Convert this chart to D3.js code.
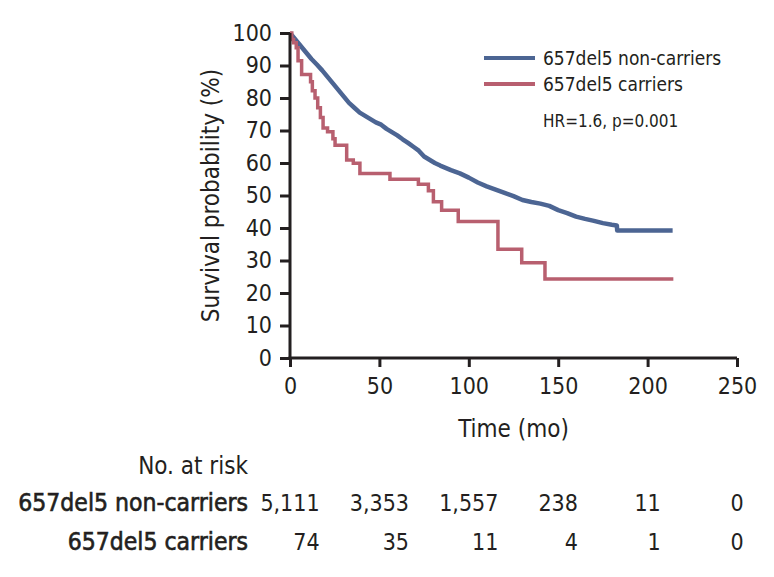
<!DOCTYPE html>
<html>
<head>
<meta charset="utf-8">
<script src="https://cdn.jsdelivr.net/npm/d3@7"></script>
<style>
  body { margin: 0; background: #fff; }
  svg text { font-family: "Liberation Sans Narrow", "DejaVu Sans Condensed", sans-serif; fill: #231f20; }
</style>
</head>
<body>
<svg id="chart"></svg>
<script>
// Kaplan-Meier curves: [month, survival %]
const nonCarriers = [
  [0, 100], [3, 98], [6, 96], [9, 94], [12, 92], [15, 90.3], [18, 88.5], [21, 86.5],
  [24, 84.5], [27, 82.5], [30, 80.5], [33, 78.5], [36, 77], [39, 75.5], [42, 74.5],
  [45, 73.5], [48, 72.5], [51, 71.8], [54, 70.5], [57, 69.5], [60, 68.5], [63, 67.3],
  [66, 66.2], [69, 65], [72, 63.8], [75, 62], [78, 61], [81, 60], [84, 59.2], [87, 58.5],
  [90, 57.8], [95, 56.8], [100, 55.5], [105, 54], [110, 52.8], [115, 51.8], [120, 50.8],
  [125, 49.8], [130, 48.6], [135, 48], [140, 47.5], [145, 46.8], [150, 45.5], [155, 44.6],
  [160, 43.5], [165, 42.8], [170, 42.2], [175, 41.5], [180, 41], [182.8, 40.8],
  [183, 39.2], [214, 39.2]
];
const carriers = [
  [0, 100], [1, 98], [2, 97], [3.5, 95.5], [4.5, 91.5], [6.5, 87.2], [11.5, 85], [12.5, 82.2],
  [14, 80], [15.5, 77], [17, 74], [18.5, 70.8], [21, 69.6], [24, 67.5], [25.2, 65.5],
  [31.7, 60.9], [35.4, 59.9], [39.1, 56.8], [55.9, 55], [71.8, 53.5], [77.4, 51.5],
  [80.2, 48.1], [84.8, 45.5], [94.1, 42], [116.3, 33.5], [129.6, 29.3], [142.6, 24.3],
  [214.4, 24.3]
];

const xTicks = [0, 50, 100, 150, 200, 250];
const yTicks = [0, 10, 20, 30, 40, 50, 60, 70, 80, 90, 100];
const groups = ['657del5 non-carriers', '657del5 carriers'];
const atRiskNon = ['5,111', '3,353', '1,557', '238', '11', '0'];
const atRiskCar = ['74', '35', '11', '4', '1', '0'];
const hrLabel = 'HR=1.6, p=0.001';

const colors = ['#4c6593', '#b85f6f'];

const width = 774, height = 577;
const margin = { top: 33, right: 37, bottom: 219, left: 290 };

const svg = d3.select('#chart')
  .attr('width', width)
  .attr('height', height);

const x = d3.scaleLinear().domain([0, 250]).range([margin.left, width - margin.right]);
const y = d3.scaleLinear().domain([0, 100]).range([height - margin.bottom, margin.top]);

// Curves: the big cohort has tiny steps, so draw it as a polyline
const denseLine = d3.line()
  .x(d => x(d[0]))
  .y(d => y(d[1]));

const stepLine = d3.line()
  .x(d => x(d[0]))
  .y(d => y(d[1]))
  .curve(d3.curveStepAfter);

svg.append('path')
  .datum(nonCarriers)
  .attr('fill', 'none')
  .attr('stroke', colors[0])
  .attr('stroke-width', 4.5)
  .attr('stroke-linejoin', 'round')
  .attr('d', denseLine);

svg.append('path')
  .datum(carriers)
  .attr('fill', 'none')
  .attr('stroke', colors[1])
  .attr('stroke-width', 3.5)
  .attr('d', stepLine);

// Axes
const xAxis = d3.axisBottom(x).tickValues(xTicks).tickSize(9).tickPadding(11);
const yAxis = d3.axisLeft(y).tickValues(yTicks).tickSize(10).tickPadding(8);

const xAxisG = svg.append('g')
  .attr('transform', `translate(0,${y(0)})`)
  .call(xAxis);
const yAxisG = svg.append('g')
  .attr('transform', `translate(${x(0)},0)`)
  .call(yAxis);

[xAxisG, yAxisG].forEach(g => {
  g.select('.domain').attr('stroke', '#231f20').attr('stroke-width', 3);
  g.selectAll('.tick line').attr('stroke', '#231f20').attr('stroke-width', 3);
  g.selectAll('.tick text').attr('font-size', 23).attr('fill', '#231f20');
});
xAxisG.select('.domain').attr('d', `M${x(0) - 1.5},0H${x(250)}`);
yAxisG.select('.domain').attr('d', `M0,${y(100)}V${y(0) + 1.5}`);

// Axis titles
svg.append('text')
  .attr('x', x(125))
  .attr('y', 437)
  .attr('text-anchor', 'middle')
  .attr('font-size', 24)
  .text('Time (mo)');

svg.append('text')
  .attr('transform', `translate(219,${(y(0) + y(100)) / 2}) rotate(-90)`)
  .attr('text-anchor', 'middle')
  .attr('font-size', 24)
  .text('Survival probability (%)');

// Legend
const legend = svg.append('g');
groups.forEach((g, i) => {
  const ly = 58 + i * 26;
  legend.append('line')
    .attr('x1', 484).attr('x2', 535)
    .attr('y1', ly).attr('y2', ly)
    .attr('stroke', colors[i])
    .attr('stroke-width', 4);
  legend.append('text')
    .attr('x', 543)
    .attr('y', ly + 7)
    .attr('font-size', 19)
    .text(g);
});
legend.append('text')
  .attr('x', 543)
  .attr('y', 127)
  .attr('font-size', 17)
  .text(hrLabel);

// Number at risk table
svg.append('text')
  .attr('x', 248)
  .attr('y', 474)
  .attr('text-anchor', 'end')
  .attr('font-size', 24)
  .text('No. at risk');

groups.forEach((g, i) => {
  svg.append('text')
    .attr('x', 248)
    .attr('y', 511 + i * 39)
    .attr('text-anchor', 'end')
    .attr('font-size', 24.5)
    .attr('stroke', '#231f20')
    .attr('stroke-width', 0.6)
    .text(g);
});

const row1 = svg.append('g').selectAll('text')
  .data(atRiskNon)
  .join('text')
  .attr('x', (d, i) => x(xTicks[i]))
  .attr('y', 511)
  .attr('text-anchor', 'middle')
  .attr('font-size', 23)
  .text(d => d);

// second row right-aligned under the first
const rights = row1.nodes().map(n => { const b = n.getBBox(); return b.x + b.width; });
svg.append('g').selectAll('text')
  .data(atRiskCar)
  .join('text')
  .attr('x', (d, i) => rights[i])
  .attr('y', 550)
  .attr('text-anchor', 'end')
  .attr('font-size', 23)
  .text(d => d);
</script>
</body>
</html>
